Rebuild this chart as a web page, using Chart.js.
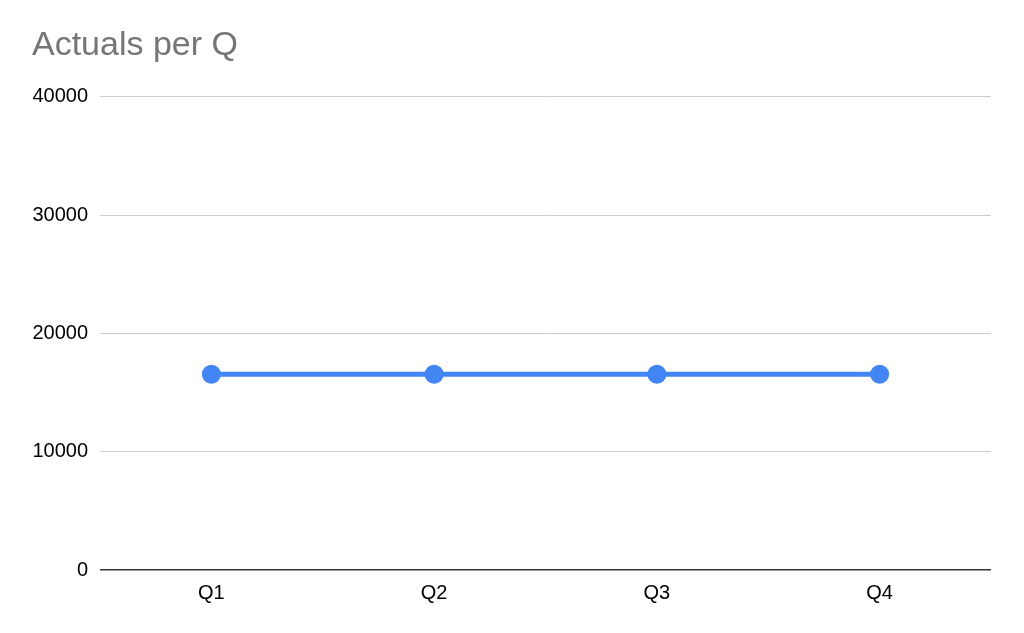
<!DOCTYPE html>
<html>
<head>
<meta charset="utf-8">
<script src="https://cdn.jsdelivr.net/npm/chart.js@4/dist/chart.umd.min.js"></script>
<style>
  html, body { margin: 0; padding: 0; background: #fff; }
  #wrap { width: 1024px; height: 633px; }
</style>
</head>
<body>
<div id="wrap"><canvas id="actualsChart"></canvas></div>
<script>
const quarters = ['Q1', 'Q2', 'Q3', 'Q4'];
const actuals = [16550, 16550, 16550, 16550];
const yTicks = [0, 10000, 20000, 30000, 40000];

const ctx = document.getElementById('actualsChart').getContext('2d');
new Chart(ctx, {
    type: 'line',
    data: {
        labels: quarters,
        datasets: [{
            label: 'Actuals',
            data: actuals,
            borderColor: '#4285f4',
            backgroundColor: '#4285f4',
            borderWidth: 5,
            pointRadius: 7,
            pointHoverRadius: 7,
            tension: 0
        }]
    },
    options: {
        responsive: true,
        maintainAspectRatio: false,
        animation: false,
        layout: { padding: { left: 32, right: 33, top: 20, bottom: 20 } },
        plugins: {
            legend: { display: false },
            tooltip: { enabled: false },
            title: {
                display: true,
                text: 'Actuals per Q',
                align: 'start',
                color: '#757575',
                font: { family: 'Liberation Sans, Arial, sans-serif', size: 34, weight: 'normal' },
                padding: { top: 5, bottom: 31 }
            }
        },
        scales: {
            x: {
                offset: true,
                grid: { display: false },
                border: { display: false },
                ticks: {
                    color: '#000',
                    font: { family: 'Liberation Sans, Arial, sans-serif', size: 20 },
                    padding: 3
                },
                afterFit: s => { s.height = 43; }
            },
            y: {
                min: 0,
                max: 40000,
                border: { display: false },
                grid: {
                    color: c => c.tick && c.tick.value === 0 ? '#333' : '#cccccc',
                    lineWidth: c => c.tick && c.tick.value === 0 ? 1.5 : 1,
                    drawTicks: false
                },
                afterBuildTicks: s => { s.ticks = yTicks.map(v => ({ value: v })); },
                ticks: {
                    color: '#000',
                    font: { family: 'Liberation Sans, Arial, sans-serif', size: 20 },
                    padding: 12,
                    callback: v => String(v)
                },
                afterFit: s => { s.width = 68; }
            }
        }
    }
});
</script>
</body>
</html>
